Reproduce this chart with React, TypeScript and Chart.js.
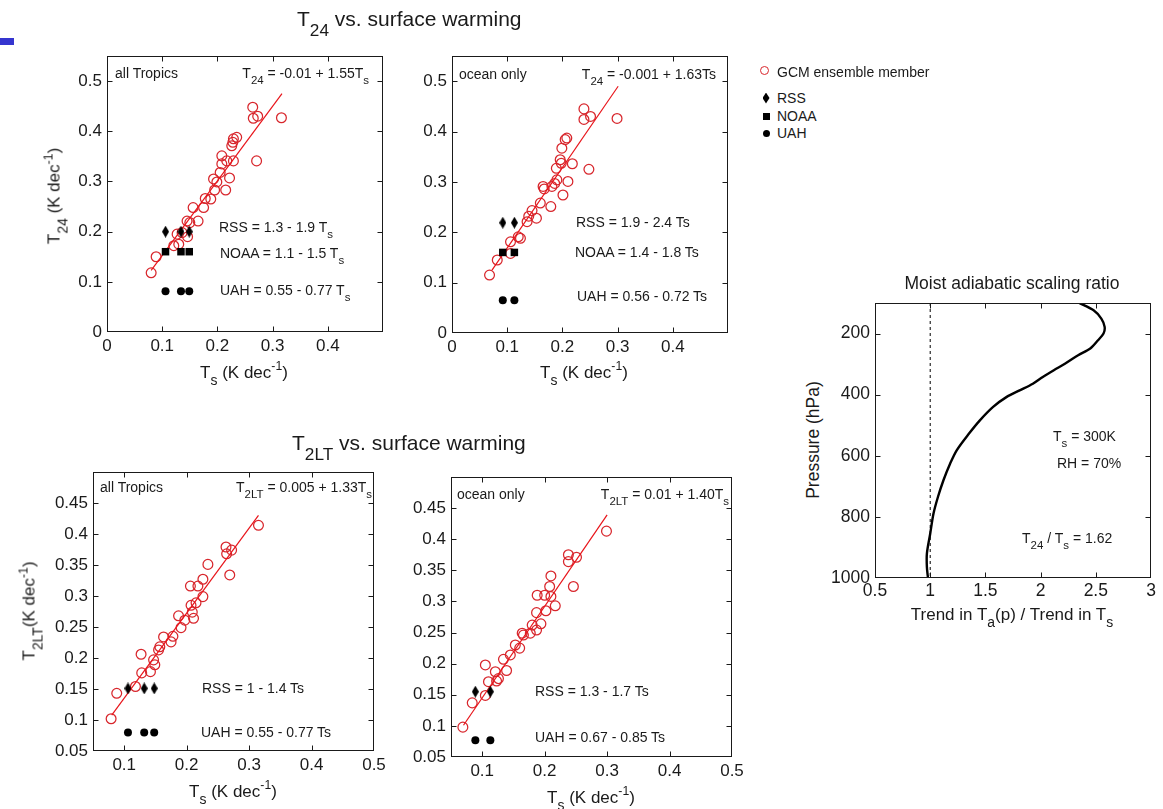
import React, { useEffect, useRef } from 'react';
import { Chart, registerables } from 'chart.js';
Chart.register(...registerables);

const FONT = '"Liberation Sans", Arial, Helvetica, sans-serif';
const RED = '#d8262c';
const LINE_RED = '#e8141a';
const INK = '#1a1a1a';

// ---------- Panel 1: T24, all Tropics ----------
const p1GcmX = [0.080, 0.089, 0.121, 0.127, 0.130, 0.136, 0.145, 0.146, 0.150, 0.156, 0.165, 0.175, 0.178, 0.188, 0.193, 0.195, 0.199, 0.205, 0.208, 0.208, 0.215, 0.217, 0.222, 0.226, 0.228, 0.229, 0.229, 0.235, 0.264, 0.265, 0.273, 0.271, 0.316];
const p1GcmY = [0.118, 0.150, 0.172, 0.195, 0.175, 0.198, 0.221, 0.190, 0.218, 0.248, 0.221, 0.248, 0.266, 0.265, 0.305, 0.283, 0.299, 0.318, 0.335, 0.351, 0.283, 0.341, 0.307, 0.371, 0.378, 0.341, 0.385, 0.388, 0.448, 0.426, 0.430, 0.341, 0.427];
const p1FitX = [0.080, 0.317];
const p1FitY = [0.123, 0.475];
const p1ObsX = [0.106, 0.134, 0.149];
const p1RssY = [0.200, 0.200, 0.200];
const p1NoaaY = [0.160, 0.160, 0.160];
const p1UahY = [0.081, 0.081, 0.081];

// ---------- Panel 2: T24, ocean only ----------
const p2GcmX = [0.068, 0.082, 0.106, 0.106, 0.120, 0.124, 0.136, 0.139, 0.145, 0.153, 0.160, 0.165, 0.167, 0.179, 0.181, 0.186, 0.189, 0.190, 0.196, 0.198, 0.201, 0.199, 0.205, 0.208, 0.210, 0.218, 0.239, 0.239, 0.251, 0.248, 0.299];
const p2GcmY = [0.115, 0.145, 0.181, 0.158, 0.191, 0.188, 0.221, 0.232, 0.243, 0.228, 0.258, 0.291, 0.286, 0.251, 0.291, 0.297, 0.327, 0.304, 0.344, 0.337, 0.274, 0.367, 0.384, 0.387, 0.301, 0.336, 0.445, 0.424, 0.430, 0.325, 0.426];
const p2FitX = [0.0725, 0.301];
const p2FitY = [0.125, 0.490];
const p2ObsX = [0.092, 0.113];
const p2RssY = [0.219, 0.219];
const p2NoaaY = [0.160, 0.160];
const p2UahY = [0.065, 0.065];

// ---------- Panel 3: T2LT, all Tropics ----------
const p3GcmX = [0.079, 0.088, 0.118, 0.127, 0.128, 0.142, 0.147, 0.149, 0.155, 0.157, 0.163, 0.175, 0.178, 0.187, 0.191, 0.197, 0.206, 0.207, 0.209, 0.211, 0.215, 0.218, 0.226, 0.226, 0.234, 0.263, 0.264, 0.272, 0.269, 0.315];
const p3GcmY = [0.102, 0.143, 0.154, 0.206, 0.176, 0.178, 0.197, 0.189, 0.213, 0.218, 0.234, 0.226, 0.235, 0.268, 0.249, 0.261, 0.316, 0.285, 0.274, 0.264, 0.289, 0.316, 0.327, 0.299, 0.351, 0.379, 0.368, 0.374, 0.334, 0.414];
const p3FitX = [0.080, 0.315];
const p3FitY = [0.108, 0.430];
const p3ObsX = [0.106, 0.132, 0.148];
const p3RssY = [0.151, 0.151, 0.151];
const p3UahY = [0.080, 0.080, 0.080];

// ---------- Panel 4: T2LT, ocean only ----------
const p4GcmX = [0.069, 0.084, 0.105, 0.105, 0.110, 0.121, 0.123, 0.126, 0.134, 0.139, 0.145, 0.153, 0.160, 0.164, 0.166, 0.177, 0.180, 0.187, 0.187, 0.188, 0.194, 0.200, 0.202, 0.208, 0.210, 0.210, 0.217, 0.238, 0.238, 0.251, 0.246, 0.299];
const p4GcmY = [0.098, 0.137, 0.149, 0.198, 0.171, 0.187, 0.172, 0.176, 0.207, 0.189, 0.214, 0.230, 0.225, 0.249, 0.246, 0.249, 0.262, 0.254, 0.282, 0.310, 0.264, 0.310, 0.285, 0.324, 0.341, 0.308, 0.293, 0.375, 0.364, 0.371, 0.324, 0.413];
const p4FitX = [0.070, 0.300];
const p4FitY = [0.101, 0.439];
const p4ObsX = [0.089, 0.113];
const p4RssY = [0.155, 0.155];
const p4UahY = [0.077, 0.077];

// ---------- Panel 5: moist adiabatic scaling ratio ----------
const profRatio = [2.35, 2.48, 2.55, 2.58, 2.57, 2.52, 2.45, 2.34, 2.22, 2.12, 2.02, 1.93, 1.81, 1.69, 1.57, 1.45, 1.35, 1.24, 1.18, 1.12, 1.07, 1.03, 1.00, 0.97, 0.97, 0.98];
const profPressure = [100, 124, 151, 178, 200, 222, 249, 271, 299, 320, 342, 364, 386, 408, 440, 484, 528, 582, 626, 680, 735, 789, 855, 920, 964, 1000];
const refRatio = [1, 1];
const refPressure = [100, 1000];

// ---------- Tick values / labels ----------
const t24Ticks = [0, 0.1, 0.2, 0.3, 0.4, 0.5];
const t24Labels = ['0', '0.1', '0.2', '0.3', '0.4', '0.5'];
const tsTopTicks = [0, 0.1, 0.2, 0.3, 0.4];
const tsTopLabels = ['0', '0.1', '0.2', '0.3', '0.4'];
const t2ltTicks = [0.05, 0.1, 0.15, 0.2, 0.25, 0.3, 0.35, 0.4, 0.45];
const t2ltLabels = ['0.05', '0.1', '0.15', '0.2', '0.25', '0.3', '0.35', '0.4', '0.45'];
const tsBotTicks = [0.1, 0.2, 0.3, 0.4, 0.5];
const tsBotLabels = ['0.1', '0.2', '0.3', '0.4', '0.5'];
const ratioTicks = [0.5, 1, 1.5, 2, 2.5, 3];
const ratioLabels = ['0.5', '1', '1.5', '2', '2.5', '3'];
const presTicks = [200, 400, 600, 800, 1000];
const presLabels = ['200', '400', '600', '800', '1000'];

const zip = (xs: number[], ys: number[]) => xs.map((x, i) => ({ x, y: ys[i] }));

let diamondCanvas: HTMLCanvasElement | null = null;
function getDiamond() {
  if (diamondCanvas) return diamondCanvas;
  const c = document.createElement('canvas');
  c.width = 7; c.height = 12;
  const g = c.getContext('2d')!;
  g.fillStyle = '#000';
  g.beginPath();
  g.moveTo(3.5, 0); g.lineTo(7, 6); g.lineTo(3.5, 12); g.lineTo(0, 6); g.closePath();
  g.fill();
  diamondCanvas = c;
  return c;
}

const PAD = { l: 50, t: 16, r: 24, b: 30 };

type Rect = { L: number; T: number; R: number; B: number };
type AxisSpec = { min: number; max: number; ticks: number[]; labels: string[]; size: number; pad: number; reverse?: boolean };

const framePlugin = {
  id: 'frame',
  afterDraw(chart: any) {
    const { ctx, chartArea: a, scales } = chart;
    const l = Math.round(a.left) + 0.5, r = Math.round(a.right) - 0.5;
    const t = Math.round(a.top) + 0.5, b = Math.round(a.bottom) - 0.5;
    ctx.save();
    ctx.strokeStyle = INK;
    ctx.lineWidth = 1;
    ctx.strokeRect(l, t, r - l, b - t);
    const len = 5;
    ctx.beginPath();
    scales.x.ticks.forEach((tk: any) => {
      const px = Math.round(scales.x.getPixelForValue(tk.value)) + 0.5;
      if (px <= l + 1 || px >= r - 1) return;
      ctx.moveTo(px, b); ctx.lineTo(px, b - len);
      ctx.moveTo(px, t); ctx.lineTo(px, t + len);
    });
    scales.y.ticks.forEach((tk: any) => {
      const py = Math.round(scales.y.getPixelForValue(tk.value)) + 0.5;
      if (py <= t + 1 || py >= b - 1) return;
      ctx.moveTo(l, py); ctx.lineTo(l + len, py);
      ctx.moveTo(r, py); ctx.lineTo(r - len, py);
    });
    ctx.stroke();
    ctx.restore();
  },
};

function axis(spec: AxisSpec, dir: 'x' | 'y') {
  return {
    type: 'linear',
    min: spec.min,
    max: spec.max,
    reverse: !!spec.reverse,
    grid: { display: false, drawTicks: false },
    border: { display: false },
    ticks: {
      color: INK,
      font: { family: FONT, size: spec.size },
      padding: spec.pad,
      autoSkip: false,
      maxRotation: 0,
      callback: (_v: any, i: number) => spec.labels[i],
    },
    afterBuildTicks: (s: any) => {
      s.ticks = spec.ticks.map((v) => ({ value: v }));
    },
    afterFit: (s: any) => {
      if (dir === 'x') s.height = PAD.b;
      else s.width = PAD.l;
    },
  };
}

function ChartBox({ rect, datasets, x, y }: { rect: Rect; datasets: any[]; x: AxisSpec; y: AxisSpec }) {
  const ref = useRef<HTMLCanvasElement>(null);
  const w = rect.R - rect.L + PAD.l + PAD.r;
  const h = rect.B - rect.T + PAD.t + PAD.b;
  useEffect(() => {
    const chart = new Chart(ref.current!, {
      type: 'scatter',
      data: { datasets },
      options: {
        animation: false,
        responsive: false,
        maintainAspectRatio: false,
        devicePixelRatio: 1,
        events: [],
        layout: { padding: { left: 0, top: PAD.t, right: PAD.r, bottom: 0 } },
        plugins: { legend: { display: false }, tooltip: { enabled: false } },
        scales: { x: axis(x, 'x') as any, y: axis(y, 'y') as any },
      },
      plugins: [framePlugin],
    } as any);
    return () => chart.destroy();
  }, []);
  return (
    <canvas
      ref={ref}
      width={w}
      height={h}
      style={{ position: 'absolute', left: rect.L - PAD.l, top: rect.T - PAD.t, width: w, height: h }}
    />
  );
}

function gcm(xs: number[], ys: number[]) {
  return { data: zip(xs, ys), pointStyle: 'circle', pointRadius: 4.9, borderColor: RED, backgroundColor: 'rgba(0,0,0,0)', borderWidth: 1.25, showLine: false };
}
function fit(xs: number[], ys: number[]) {
  return { data: zip(xs, ys), showLine: true, borderColor: LINE_RED, borderWidth: 1.2, pointRadius: 0 };
}
function rss(xs: number[], ys: number[]) {
  return { data: zip(xs, ys), pointStyle: getDiamond(), pointRadius: 5, showLine: false };
}
function noaa(xs: number[], ys: number[]) {
  return { data: zip(xs, ys), pointStyle: 'rect', pointRadius: 5.3, backgroundColor: '#000', borderColor: '#000', borderWidth: 0, showLine: false };
}
function uah(xs: number[], ys: number[]) {
  return { data: zip(xs, ys), pointStyle: 'circle', pointRadius: 4, backgroundColor: '#000', borderColor: '#000', borderWidth: 0, showLine: false };
}

function Txt({ x, y, a = 'l', s = 14, rot = false, children }: any) {
  const tx = a === 'l' ? '0' : a === 'r' ? '-100%' : '-50%';
  return (
    <div
      style={{
        position: 'absolute',
        left: x,
        top: y,
        transform: rot ? 'translate(-50%,-50%) rotate(-90deg)' : `translate(${tx},-50%)`,
        fontSize: s,
        fontFamily: FONT,
        whiteSpace: 'nowrap',
        lineHeight: 1,
        color: INK,
      }}
    >
      {children}
    </div>
  );
}
const Sub = ({ children }: any) => (
  <span style={{ fontSize: '0.82em', verticalAlign: '-0.55em', lineHeight: 0 }}>{children}</span>
);
const Sup = ({ children }: any) => (
  <span style={{ fontSize: '0.72em', verticalAlign: '0.6em', lineHeight: 0 }}>{children}</span>
);

const R1: Rect = { L: 107, T: 56, R: 383, B: 332 };
const R2: Rect = { L: 452, T: 56, R: 728, B: 333 };
const R3: Rect = { L: 93, T: 472, R: 374, B: 751 };
const R4: Rect = { L: 451, T: 477, R: 732, B: 757 };
const R5: Rect = { L: 875, T: 303, R: 1151, B: 578 };

const xTop: AxisSpec = { min: 0, max: 0.5, ticks: tsTopTicks, labels: tsTopLabels, size: 17, pad: 4 };
const yTop: AxisSpec = { min: 0, max: 0.55, ticks: t24Ticks, labels: t24Labels, size: 17, pad: 5 };
const xBot: AxisSpec = { min: 0.05, max: 0.5, ticks: tsBotTicks, labels: tsBotLabels, size: 17, pad: 4 };
const yBot: AxisSpec = { min: 0.05, max: 0.5, ticks: t2ltTicks, labels: t2ltLabels, size: 17, pad: 5 };
const xProf: AxisSpec = { min: 0.5, max: 3, ticks: ratioTicks, labels: ratioLabels, size: 17.5, pad: 3 };
const yProf: AxisSpec = { min: 100, max: 1000, ticks: presTicks, labels: presLabels, size: 17.5, pad: 5, reverse: true };

const TsLabel = () => (
  <>
    T<Sub>s</Sub> (K dec<Sup>-1</Sup>)
  </>
);

export default function App() {
  const ds1 = [rss(p1ObsX, p1RssY), noaa(p1ObsX, p1NoaaY), uah(p1ObsX, p1UahY), fit(p1FitX, p1FitY), gcm(p1GcmX, p1GcmY)];
  const ds2 = [rss(p2ObsX, p2RssY), noaa(p2ObsX, p2NoaaY), uah(p2ObsX, p2UahY), fit(p2FitX, p2FitY), gcm(p2GcmX, p2GcmY)];
  const ds3 = [rss(p3ObsX, p3RssY), uah(p3ObsX, p3UahY), fit(p3FitX, p3FitY), gcm(p3GcmX, p3GcmY)];
  const ds4 = [rss(p4ObsX, p4RssY), uah(p4ObsX, p4UahY), fit(p4FitX, p4FitY), gcm(p4GcmX, p4GcmY)];
  const ds5 = [
    { data: zip(profRatio, profPressure), showLine: true, borderColor: '#000', borderWidth: 2.4, pointRadius: 0, tension: 0.3 },
    { data: zip(refRatio, refPressure), showLine: true, borderColor: '#000', borderWidth: 1, borderDash: [3, 3], pointRadius: 0 },
  ];

  return (
    <div style={{ position: 'absolute', left: 0, top: 0, width: 1163, height: 809, background: '#fff', overflow: 'hidden', fontFamily: FONT }}>
      <div style={{ position: 'absolute', left: 0, top: 38, width: 14, height: 7, background: '#3535cf' }} />

      <ChartBox rect={R1} datasets={ds1} x={xTop} y={yTop} />
      <ChartBox rect={R2} datasets={ds2} x={xTop} y={yTop} />
      <ChartBox rect={R3} datasets={ds3} x={xBot} y={yBot} />
      <ChartBox rect={R4} datasets={ds4} x={xBot} y={yBot} />
      <ChartBox rect={R5} datasets={ds5} x={xProf} y={yProf} />

      {/* titles */}
      <Txt x={297} y={19} s={21}>T<Sub>24</Sub> vs. surface warming</Txt>
      <Txt x={292} y={443} s={21}>T<Sub>2LT</Sub> vs. surface warming</Txt>
      <Txt x={1012} y={284} a="c" s={17.5}>Moist adiabatic scaling ratio</Txt>

      {/* panel 1 */}
      <Txt x={115} y={73}>all Tropics</Txt>
      <Txt x={369} y={73} a="r">T<Sub>24</Sub> = -0.01 + 1.55T<Sub>s</Sub></Txt>
      <Txt x={219} y={227}>RSS = 1.3 - 1.9 T<Sub>s</Sub></Txt>
      <Txt x={220} y={253}>NOAA = 1.1 - 1.5 T<Sub>s</Sub></Txt>
      <Txt x={220} y={290}>UAH = 0.55 - 0.77 T<Sub>s</Sub></Txt>
      <Txt x={244} y={372} a="c" s={17}><TsLabel /></Txt>
      <Txt x={54} y={196} rot s={17}>T<Sub>24</Sub> (K dec<Sup>-1</Sup>)</Txt>

      {/* panel 2 */}
      <Txt x={459} y={74}>ocean only</Txt>
      <Txt x={716} y={74} a="r">T<Sub>24</Sub> = -0.001 + 1.63Ts</Txt>
      <Txt x={576} y={222}>RSS = 1.9 - 2.4 Ts</Txt>
      <Txt x={575} y={252}>NOAA = 1.4 - 1.8 Ts</Txt>
      <Txt x={577} y={296}>UAH = 0.56 - 0.72 Ts</Txt>
      <Txt x={584} y={372} a="c" s={17}><TsLabel /></Txt>

      {/* panel 3 */}
      <Txt x={100} y={487}>all Tropics</Txt>
      <Txt x={372} y={487} a="r">T<Sub>2LT</Sub> = 0.005 + 1.33T<Sub>s</Sub></Txt>
      <Txt x={202} y={688}>RSS = 1 - 1.4 Ts</Txt>
      <Txt x={201} y={732}>UAH = 0.55 - 0.77 Ts</Txt>
      <Txt x={233} y={791} a="c" s={17}><TsLabel /></Txt>
      <Txt x={29} y={611} rot s={17}>T<Sub>2LT</Sub>(K dec<Sup>-1</Sup>)</Txt>

      {/* panel 4 */}
      <Txt x={457} y={494}>ocean only</Txt>
      <Txt x={729} y={494} a="r">T<Sub>2LT</Sub> = 0.01 + 1.40T<Sub>s</Sub></Txt>
      <Txt x={535} y={691}>RSS = 1.3 - 1.7 Ts</Txt>
      <Txt x={535} y={737}>UAH = 0.67 - 0.85 Ts</Txt>
      <Txt x={591} y={797} a="c" s={17}><TsLabel /></Txt>

      {/* panel 5 */}
      <Txt x={1053} y={436}>T<Sub>s</Sub> = 300K</Txt>
      <Txt x={1057} y={463}>RH = 70%</Txt>
      <Txt x={1022} y={538}>T<Sub>24</Sub> / T<Sub>s</Sub> = 1.62</Txt>
      <Txt x={1012} y={614} a="c" s={17}>Trend in T<Sub>a</Sub>(p) / Trend in T<Sub>s</Sub></Txt>
      <Txt x={814} y={440} rot s={17.5}>Pressure (hPa)</Txt>

      {/* legend */}
      <div style={{ position: 'absolute', left: 759.5, top: 66, width: 7, height: 7, border: `1.2px solid ${RED}`, borderRadius: '50%' }} />
      <Txt x={777} y={72}>GCM ensemble member</Txt>
      <div style={{ position: 'absolute', left: 762.5, top: 92.5, width: 7, height: 11, background: '#000', clipPath: 'polygon(50% 0, 100% 50%, 50% 100%, 0 50%)' }} />
      <Txt x={777} y={98}>RSS</Txt>
      <div style={{ position: 'absolute', left: 763, top: 112.5, width: 7, height: 7, background: '#000' }} />
      <Txt x={777} y={116}>NOAA</Txt>
      <div style={{ position: 'absolute', left: 762.5, top: 129.5, width: 7, height: 7, background: '#000', borderRadius: '50%' }} />
      <Txt x={777} y={133}>UAH</Txt>
    </div>
  );
}
